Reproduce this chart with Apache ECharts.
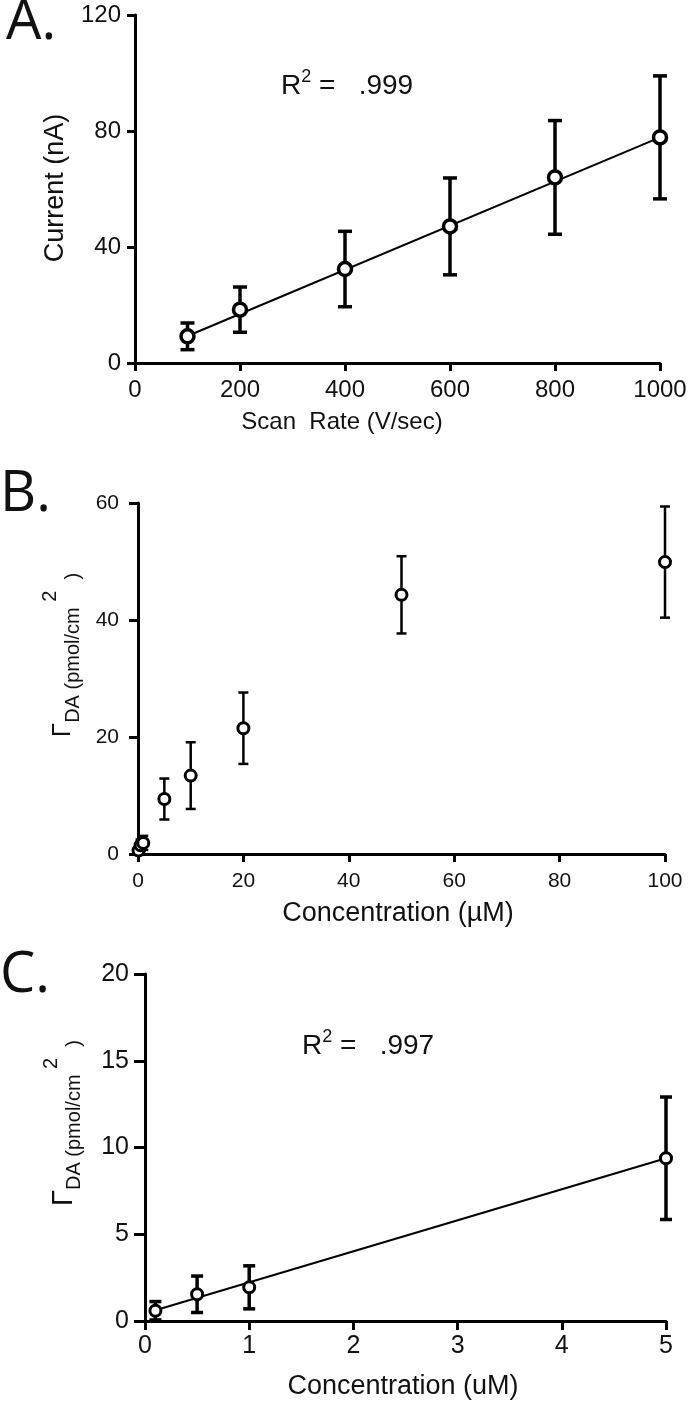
<!DOCTYPE html>
<html>
<head>
<meta charset="utf-8">
<script src="https://cdn.jsdelivr.net/npm/echarts@6/dist/echarts.min.js"></script>
<style>
html,body{margin:0;padding:0;background:#fff;}
#chart{width:696px;height:1406px;}
</style>
</head>
<body>
<div id="chart"></div>
<script>
// ---- Panel A data ----
const aX = [100, 200, 400, 600, 800, 1000];
const aY = [9.2, 18.4, 32.4, 47.1, 64.0, 77.8];
const aErr = [4.6, 7.8, 13.0, 16.7, 19.6, 21.2];
const aFitX = [100, 1000];
const aFitY = [9.3, 77.8];
const aXTicks = [0, 200, 400, 600, 800, 1000];
const aYTicks = [0, 40, 80, 120];

// ---- Panel B data ----
const bX = [0.1, 0.5, 1, 5, 10, 20, 50, 100];
const bY = [0.6, 1.5, 1.9, 9.4, 13.4, 21.5, 44.3, 49.9];
const bErr = [0.5, 1.0, 1.2, 3.5, 5.7, 6.1, 6.6, 9.5];
const bXTicks = [0, 20, 40, 60, 80, 100];
const bYTicks = [0, 20, 40, 60];

// ---- Panel C data ----
const cX = [0.1, 0.5, 1, 5];
const cY = [0.59, 1.54, 1.94, 9.38];
const cErr = [0.53, 1.05, 1.24, 3.53];
const cFitX = [0.1, 5];
const cFitY = [0.62, 9.38];
const cXTicks = [0, 1, 2, 3, 4, 5];
const cYTicks = [0, 5, 10, 15, 20];

const FONT = "'Liberation Sans', Arial, sans-serif";
const INK = '#111';

function pairs(xs, ys) { return xs.map((x, i) => [x, ys[i]]); }
function errData(xs, ys, es) { return xs.map((x, i) => [x, ys[i] - es[i], ys[i] + es[i]]); }

function errRender(capHalf, lw) {
  return function (params, api) {
    const x = api.value(0), lo = api.value(1), hi = api.value(2);
    const pt = api.coord([x, hi]);
    const pb = api.coord([x, lo]);
    const st = { stroke: '#000', lineWidth: lw };
    return {
      type: 'group',
      children: [
        { type: 'line', shape: { x1: pt[0], y1: pt[1], x2: pb[0], y2: pb[1] }, style: st },
        { type: 'line', shape: { x1: pt[0] - capHalf, y1: pt[1], x2: pt[0] + capHalf, y2: pt[1] }, style: st },
        { type: 'line', shape: { x1: pb[0] - capHalf, y1: pb[1], x2: pb[0] + capHalf, y2: pb[1] }, style: st }
      ]
    };
  };
}

function axisCommon(ticks, fontSize, margin, tickLen) {
  const interval = ticks[1] - ticks[0];
  return {
    type: 'value',
    min: ticks[0],
    max: ticks[ticks.length - 1],
    interval: interval,
    splitLine: { show: false },
    axisLine: { show: true, onZero: false, lineStyle: { color: '#000', width: 3 } },
    axisTick: { show: true, inside: false, length: tickLen, lineStyle: { color: '#000', width: 3 } },
    axisLabel: { color: INK, fontSize: fontSize, fontFamily: FONT, margin: margin,
                 formatter: function (v) { return String(v); } }
  };
}

function scatterStyle(bw) {
  return { color: '#fff', borderColor: '#000', borderWidth: bw, opacity: 1 };
}

const chart = echarts.init(document.getElementById('chart'), null, { renderer: 'canvas' });

const titleRich = (g, s) => ({
  g: { fontSize: g, fontFamily: FONT, color: INK, lineHeight: 46, verticalAlign: 'middle' },
  s: { fontSize: s, fontFamily: FONT, color: INK, lineHeight: 46, verticalAlign: 'bottom', padding: [0, 0, 3, 0] },
  p: { fontSize: s, fontFamily: FONT, color: INK, lineHeight: 46, verticalAlign: 'top' }
});

const r2Rich = {
  r: { fontSize: 28, fontFamily: FONT, color: INK, lineHeight: 32, verticalAlign: 'bottom' },
  s: { fontSize: 18, fontFamily: FONT, color: INK, lineHeight: 32, verticalAlign: 'top' }
};

const option = {
  backgroundColor: '#fff',
  animation: false,
  grid: [
    { left: 135, top: 15, width: 525, height: 348 },
    { left: 138, top: 503, width: 527, height: 351 },
    { left: 145, top: 974, width: 521, height: 347 }
  ],
  xAxis: [
    Object.assign(axisCommon(aXTicks, 24, 15, 8), { gridIndex: 0 }),
    Object.assign(axisCommon(bXTicks, 21, 17, 8), { gridIndex: 1 }),
    Object.assign(axisCommon(cXTicks, 25, 13, 9), { gridIndex: 2 })
  ],
  yAxis: [
    Object.assign(axisCommon(aYTicks, 24, 14, 8), { gridIndex: 0 }),
    Object.assign(axisCommon(bYTicks, 21, 19, 9), { gridIndex: 1 }),
    Object.assign(axisCommon(cYTicks, 25, 16, 11), { gridIndex: 2 })
  ],
  series: [
    // Panel A
    { type: 'line', xAxisIndex: 0, yAxisIndex: 0, data: pairs(aFitX, aFitY), showSymbol: false, symbol: 'none',
      lineStyle: { color: '#000', width: 2 }, z: 1 },
    { type: 'custom', xAxisIndex: 0, yAxisIndex: 0, data: errData(aX, aY, aErr), renderItem: errRender(7, 3.5), z: 2 },
    { type: 'scatter', xAxisIndex: 0, yAxisIndex: 0, data: pairs(aX, aY), symbol: 'circle', symbolSize: 13,
      itemStyle: scatterStyle(3.5), z: 3 },
    // Panel B
    { type: 'custom', xAxisIndex: 1, yAxisIndex: 1, data: errData(bX, bY, bErr), renderItem: errRender(5, 2.5), z: 2 },
    { type: 'scatter', xAxisIndex: 1, yAxisIndex: 1, data: pairs(bX, bY), symbol: 'circle', symbolSize: 11,
      itemStyle: scatterStyle(3), z: 3 },
    // Panel C
    { type: 'line', xAxisIndex: 2, yAxisIndex: 2, data: pairs(cFitX, cFitY), showSymbol: false, symbol: 'none',
      lineStyle: { color: '#000', width: 2 }, z: 1 },
    { type: 'custom', xAxisIndex: 2, yAxisIndex: 2, data: errData(cX, cY, cErr), renderItem: errRender(6, 3.5), z: 2 },
    { type: 'scatter', xAxisIndex: 2, yAxisIndex: 2, data: pairs(cX, cY), symbol: 'circle', symbolSize: 11,
      itemStyle: scatterStyle(3), z: 3 }
  ],
  graphic: [
    // panel letters
    { type: 'text', left: 6, top: -5, style: { text: 'A.', font: "56px 'Open Sans', sans-serif", fill: INK } },
    { type: 'text', left: 0, top: 467, style: { text: 'B.', font: "56px 'Open Sans', sans-serif", fill: INK } },
    { type: 'text', left: 0, top: 948, style: { text: 'C.', font: "56px 'Open Sans', sans-serif", fill: INK } },
    // R^2 labels
    { type: 'text', x: 281, y: 100, style: {
        text: '{r|R}{s|2}{r| =   .999}', fill: INK, textVerticalAlign: 'bottom', verticalAlign: 'bottom', rich: r2Rich } },
    { type: 'text', x: 302, y: 1060, style: {
        text: '{r|R}{s|2}{r| =   .997}', fill: INK, textVerticalAlign: 'bottom', verticalAlign: 'bottom', rich: r2Rich } },
    // axis titles A
    { type: 'text', x: 342, y: 422, style: { text: 'Scan  Rate (V/sec)', fontSize: 24, fontFamily: FONT, fill: INK,
        textAlign: 'center', align: 'center', textVerticalAlign: 'middle', verticalAlign: 'middle' } },
    { type: 'text', x: 56, y: 188, rotation: Math.PI / 2, style: { text: 'Current (nA)', fontSize: 27, fontFamily: FONT, fill: INK,
        textAlign: 'center', align: 'center', textVerticalAlign: 'middle', verticalAlign: 'middle' } },
    // axis titles B
    { type: 'text', x: 398, y: 914, style: { text: 'Concentration (\u00b5M)', fontSize: 27, fontFamily: FONT, fill: INK,
        textAlign: 'center', align: 'center', textVerticalAlign: 'middle', verticalAlign: 'middle' } },
    { type: 'text', x: 63, y: 655, rotation: Math.PI / 2, style: {
        text: '{g|\u0393}{s|DA (pmol/cm}{p| 2 }{s| )}', fill: INK,
        textAlign: 'center', align: 'center', textVerticalAlign: 'middle', verticalAlign: 'middle',
        rich: titleRich(26, 20) } },
    // axis titles C
    { type: 'text', x: 403, y: 1387, style: { text: 'Concentration (uM)', fontSize: 27, fontFamily: FONT, fill: INK,
        textAlign: 'center', align: 'center', textVerticalAlign: 'middle', verticalAlign: 'middle' } },
    { type: 'text', x: 64, y: 1123, rotation: Math.PI / 2, style: {
        text: '{g|\u0393}{s|DA (pmol/cm}{p| 2 }{s| )}', fill: INK,
        textAlign: 'center', align: 'center', textVerticalAlign: 'middle', verticalAlign: 'middle',
        rich: titleRich(29, 20) } }
  ]
};

chart.setOption(option);
</script>
</body>
</html>
